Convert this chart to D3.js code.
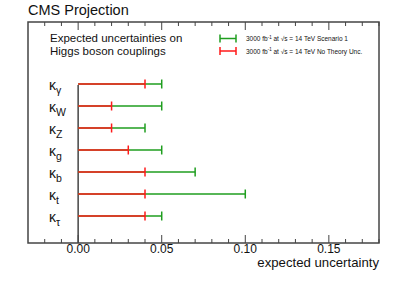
<!DOCTYPE html>
<html>
<head>
<meta charset="utf-8">
<script src="https://cdn.jsdelivr.net/npm/d3@7"></script>
<style>
  body { margin: 0; background: #fff; }
  text { font-family: "Liberation Sans", Arial, sans-serif; }
</style>
</head>
<body>
<svg id="chart"></svg>
<script>
// couplings, top to bottom
const couplings = ["γ", "W", "Z", "g", "b", "t", "τ"];
// scenario 1 (green) and no theory unc. (red)
const scenario1 = [0.05, 0.05, 0.04, 0.05, 0.07, 0.10, 0.05];
const noTheory = [0.04, 0.02, 0.02, 0.03, 0.04, 0.04, 0.04];
const tickLabels = ["0.00", "0.05", "0.10", "0.15"];
const legendLabels = ["Scenario 1", "No Theory Unc."];

const width = 399, height = 286;
const frame = {left: 28, right: 379, top: 22, bottom: 243};
const green = "#1f9e1f", red = "#ff1a1a";

const svg = d3.select("#chart").attr("width", width).attr("height", height);

const x = d3.scaleLinear().domain([-0.03, 0.18]).range([frame.left, frame.right]);
const y = d3.scalePoint().domain(couplings).range([84, 216]);

// frame
svg.append("rect")
  .attr("x", frame.left).attr("y", frame.top)
  .attr("width", frame.right - frame.left).attr("height", frame.bottom - frame.top)
  .attr("fill", "none").attr("stroke", "#444").attr("stroke-width", 1.5);

// ticks top and bottom
const minor = d3.range(-0.02, 0.181, 0.01).map(d => Math.round(d * 100) / 100);
minor.forEach(v => {
  const major = Math.abs(v * 100 % 5) < 1e-6;
  const len = major ? 8 : 4;
  svg.append("line").attr("x1", x(v)).attr("x2", x(v))
    .attr("y1", frame.bottom).attr("y2", frame.bottom - len)
    .attr("stroke", "#444").attr("stroke-width", 1);
  svg.append("line").attr("x1", x(v)).attr("x2", x(v))
    .attr("y1", frame.top).attr("y2", frame.top + len)
    .attr("stroke", "#444").attr("stroke-width", 1);
});

svg.selectAll(".tl").data(tickLabels).enter().append("text")
  .attr("x", d => x(+d)).attr("y", 252.5)
  .attr("text-anchor", "middle").attr("font-size", 12).attr("fill", "#111")
  .text(d => d);

svg.append("text").attr("x", frame.right).attr("y", 267)
  .attr("text-anchor", "end").attr("font-size", 13.2).attr("fill", "#111")
  .text("expected uncertainty");

// zero line
svg.append("line").attr("x1", x(0)).attr("x2", x(0))
  .attr("y1", 85).attr("y2", frame.bottom)
  .attr("stroke", "#444").attr("stroke-width", 1.5);

// bars, green under red
function bars(vals, color) {
  const g = svg.append("g");
  g.selectAll("line.h").data(couplings).enter().append("line")
    .attr("x1", x(0)).attr("x2", (d, i) => x(vals[i]))
    .attr("y1", d => y(d)).attr("y2", d => y(d))
    .attr("stroke", color).attr("stroke-width", 1.5);
  g.selectAll("line.c").data(couplings).enter().append("line")
    .attr("x1", (d, i) => x(vals[i])).attr("x2", (d, i) => x(vals[i]))
    .attr("y1", d => y(d) - 4.5).attr("y2", d => y(d) + 4.5)
    .attr("stroke", color).attr("stroke-width", 1.5);
}
bars(scenario1, green);
bars(noTheory, red);

// kappa labels
couplings.forEach(c => {
  const t = svg.append("text").attr("x", 49).attr("y", y(c) + 6)
    .attr("font-family", "DejaVu Sans").attr("font-size", 14).attr("fill", "#111");
  t.append("tspan").text("κ");
  t.append("tspan").attr("font-family", "Liberation Sans").attr("font-size", 10.5).attr("dy", 3.5).text(c);
});

// title and labels
svg.append("text").attr("x", 28).attr("y", 15).attr("font-size", 14.5).attr("fill", "#111")
  .text("CMS Projection");
svg.append("text").attr("x", 50).attr("y", 42).attr("font-size", 11.5).attr("fill", "#111")
  .text("Expected uncertainties on");
svg.append("text").attr("x", 50).attr("y", 54.5).attr("font-size", 11.5).attr("fill", "#111")
  .text("Higgs boson couplings");

// legend
[green, red].forEach((col, i) => {
  const ly = 38.5 + i * 12.5;
  svg.append("line").attr("x1", 220).attr("x2", 236).attr("y1", ly).attr("y2", ly)
    .attr("stroke", col).attr("stroke-width", 1.5);
  [220, 236].forEach(xx => svg.append("line").attr("x1", xx).attr("x2", xx)
    .attr("y1", ly - 4).attr("y2", ly + 4).attr("stroke", col).attr("stroke-width", 1.5));
  const t = svg.append("text").attr("x", 246).attr("y", ly + 2.5)
    .attr("font-size", 6.5).attr("fill", "#111");
  t.append("tspan").text("3000 fb");
  t.append("tspan").attr("dy", -2.5).attr("font-size", 4.5).text("-1");
  t.append("tspan").attr("dy", 2.5).text(" at  √s = 14 TeV " + legendLabels[i]);
});
</script>
</body>
</html>
